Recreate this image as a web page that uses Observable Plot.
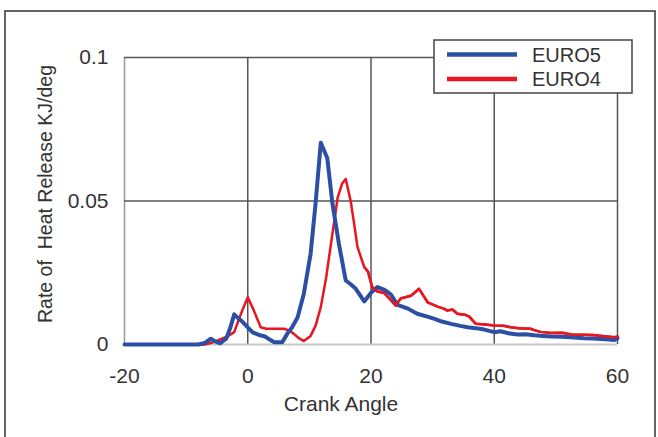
<!DOCTYPE html>
<html>
<head>
<meta charset="utf-8">
<script src="https://cdn.jsdelivr.net/npm/d3@7"></script>
<script src="https://cdn.jsdelivr.net/npm/@observablehq/plot@0.6"></script>
<style>
  html, body { margin: 0; padding: 0; background: #fff; }
  #chart { width: 658px; height: 437px; overflow: hidden; }
</style>
</head>
<body>
<div id="chart"></div>
<script>
const euro5Angle = [-20,-8,-7,-6,-5.2,-4.5,-3.5,-2.8,-2.2,-1.5,-1,0,0.8,2,2.8,3.5,4.3,5.6,6.4,7.2,8.1,9.1,10.2,11,11.85,12.9,13.75,14.8,15.9,16.7,17.5,18.9,20,21.05,22.2,23.2,24.3,26,27.5,29,30.2,31.5,33,34.5,35.7,37,38.4,40,41,42.5,43.8,45,46.5,48,49.2,51,53,54.6,56,58,59.5,60];
const euro5Value = [0,0,0.0005,0.002,0.001,0.0004,0.002,0.006,0.0105,0.009,0.0082,0.006,0.0042,0.0032,0.0028,0.0018,0.0008,0.0008,0.0037,0.006,0.0095,0.0177,0.0316,0.049,0.0703,0.065,0.049,0.035,0.0223,0.021,0.0195,0.015,0.018,0.020,0.019,0.0175,0.0138,0.0125,0.0107,0.0098,0.009,0.008,0.0072,0.0065,0.006,0.0057,0.0052,0.0043,0.0046,0.0038,0.0035,0.0036,0.0032,0.003,0.0028,0.0027,0.0024,0.0022,0.0021,0.0018,0.0016,0.0022];
const euro4Angle = [-20,-7,-6,-4.9,-3.3,-2.2,-1.1,0,1.0,2.1,3,4.3,5.9,6.8,7.5,8.3,9.1,10.2,11,11.85,12.7,13.5,14.6,15.3,15.9,16.7,17.2,17.8,18.9,19.5,20.2,21,22.1,23,24,24.8,26.5,27.8,29.2,30.8,31.8,32.4,33.2,34,35.2,35.9,37,38.5,40,41.5,42.7,44,45.9,46.5,47.5,49.2,51,52.5,54.6,56,57.5,59.5,60];
const euro4Value = [0,0,0.0005,0.0014,0.0028,0.0043,0.0107,0.0165,0.0118,0.006,0.0055,0.0055,0.0055,0.0048,0.0037,0.0022,0.0012,0.003,0.0065,0.013,0.023,0.035,0.0513,0.056,0.0577,0.050,0.043,0.034,0.027,0.0255,0.020,0.0185,0.018,0.016,0.0136,0.016,0.017,0.0194,0.0147,0.0132,0.0125,0.0118,0.0122,0.0107,0.0104,0.0098,0.0072,0.007,0.0066,0.0065,0.006,0.0057,0.0055,0.005,0.0044,0.004,0.0041,0.0035,0.0034,0.0033,0.003,0.0025,0.0028];
const xTicks = [-20, 0, 20, 40, 60];
const yTicks = [0, 0.05, 0.1];
const seriesNames = ["EURO5", "EURO4"];
const seriesColors = ["#2c4ea3", "#e8161f"];

const euro5 = euro5Angle.map((a, i) => ({angle: a, value: euro5Value[i]}));
const euro4 = euro4Angle.map((a, i) => ({angle: a, value: euro4Value[i]}));

const font = "'Liberation Sans', Arial, sans-serif";

const plot = Plot.plot({
  width: 658,
  height: 437,
  marginTop: 57,
  marginRight: 41,
  marginBottom: 93,
  marginLeft: 124,
  style: {fontFamily: font, background: "#fff", overflow: "visible"},
  x: {domain: [-20, 60]},
  y: {domain: [0, 0.1]},
  marks: [
    Plot.ruleX([-20], {stroke: "#999", strokeWidth: 1.5}),
    Plot.gridX([0, 20, 40, 60], {stroke: "#555", strokeOpacity: 1, strokeWidth: 1.5}),
    Plot.gridY([0.05, 0.1], {stroke: "#555", strokeOpacity: 1, strokeWidth: 1.5}),
    Plot.ruleY([0], {stroke: "#c8c8c8", strokeWidth: 2}),
    Plot.axisX({ticks: xTicks, tickSize: 0, tickPadding: 24, fontSize: 21, fill: "#333", label: null, tickFormat: d => String(d)}),
    Plot.axisY({ticks: yTicks, tickSize: 0, tickPadding: 16, fontSize: 21, fill: "#333", label: null, tickFormat: d => String(d)}),
    Plot.line(euro4, {x: "angle", y: "value", stroke: seriesColors[1], strokeWidth: 2.5}),
    Plot.line(euro5, {x: "angle", y: "value", stroke: seriesColors[0], strokeWidth: 4}),
    Plot.line(euro4.filter(d => d.angle >= 18), {x: "angle", y: "value", stroke: seriesColors[1], strokeWidth: 2.5})
  ]
});

const svg = d3.select(plot);
// outer frame
svg.append("rect").attr("x", 5).attr("y", 11).attr("width", 650).attr("height", 440)
  .attr("fill", "none").attr("stroke", "#333").attr("stroke-width", 1.5);
// axis titles
svg.append("text").attr("x", 341).attr("y", 411).attr("text-anchor", "middle")
  .attr("font-family", font).attr("font-size", 21).attr("fill", "#333").text("Crank Angle");
svg.append("text").attr("transform", "translate(52,194) rotate(-90)").attr("text-anchor", "middle")
  .attr("font-family", font).attr("font-size", 19.5).attr("fill", "#333")
  .attr("xml:space", "preserve").style("white-space", "pre").text("Rate of  Heat Release KJ/deg");
// legend
const lg = svg.append("g").attr("text-anchor", "start");
lg.append("rect").attr("x", 434).attr("y", 40).attr("width", 198).attr("height", 53)
  .attr("fill", "#fff").attr("stroke", "#444").attr("stroke-width", 1.5);
seriesNames.forEach((name, i) => {
  const y = 54.5 + i * 24.5;
  lg.append("line").attr("x1", 447).attr("x2", 517).attr("y1", y).attr("y2", y)
    .attr("stroke", seriesColors[i]).attr("stroke-width", 4.5);
  lg.append("text").attr("x", 532).attr("y", y + 7).attr("text-anchor", "start").attr("font-family", font)
    .attr("font-size", 20).attr("fill", "#333").text(name);
});

document.getElementById("chart").appendChild(plot);
</script>
</body>
</html>
